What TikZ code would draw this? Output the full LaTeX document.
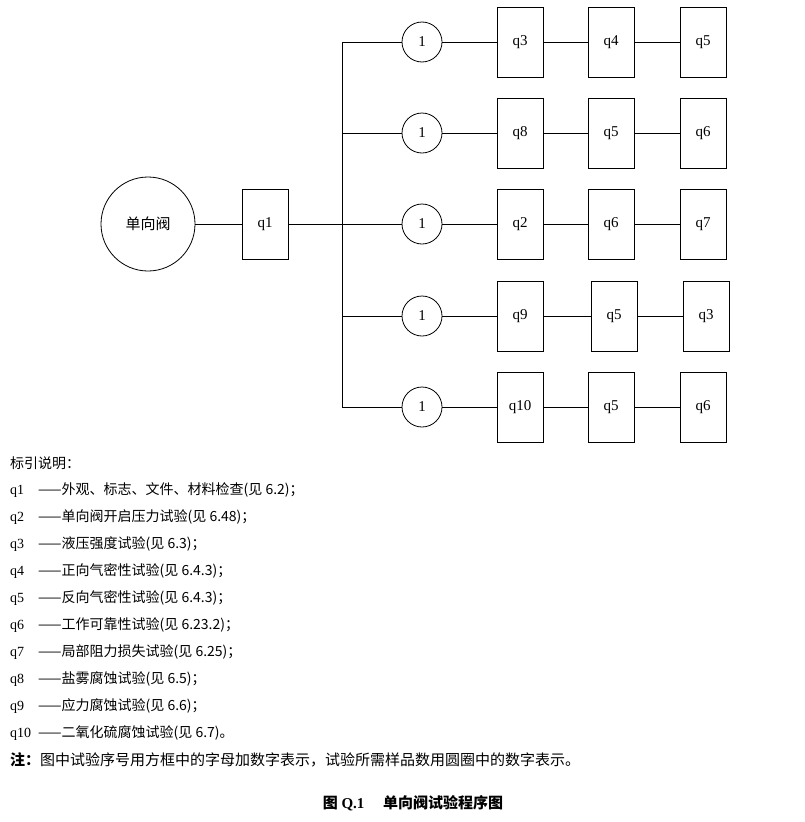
\documentclass[tikz,border=0pt]{standalone}
\usepackage{fontspec}
\setmainfont{Liberation Serif}
\newfontfamily\cjk{Noto Sans CJK SC}
\begin{document}
\begin{tikzpicture}[x=1pt,y=-1pt,font=\fontsize{15}{15}\selectfont]
    \useasboundingbox (0,0) rectangle (804,822);
    \tikzset{
        box/.style={draw,minimum width=46,minimum height=70,inner sep=0},
        cnt/.style={draw,circle,minimum size=40,inner sep=0},
        leg/.style={anchor=west,inner sep=0,font=\fontsize{14}{14}\selectfont}
    }

    \begin{scope}[thick]
        \node[draw,circle,minimum size=94] (v) at (148,224) {\cjk 单向阀};
        \node[box] (q1) at (265,224) {q1};
        \coordinate (t) at (342,224);
        \draw (v) -- (q1) -- (t);

        % rows: y, tests
        \foreach \y/\i/\a/\b/\c/\xa/\xb/\xc in {
            42/1/q3/q4/q5/520/611/703,
            133/2/q8/q5/q6/520/611/703,
            224/3/q2/q6/q7/520/611/703,
            316/4/q9/q5/q3/520/614/706,
            407/5/q10/q5/q6/520/611/703} {
            \coordinate (s\i) at (342,\y);
            \node[cnt] (n\i) at (422,\y) {1};
            \node[box] (a\i) at (\xa,\y) {\a};
            \node[box] (b\i) at (\xb,\y) {\b};
            \node[box] (c\i) at (\xc,\y) {\c};
            \draw (s\i) -- (n\i) -- (a\i) -- (b\i) -- (c\i);
        }
        \draw (s1) -- (s5);
    \end{scope}

    % legend
    \node[leg] (h) at (10,463) {\cjk 标引说明：};
    \foreach \k/\txt [count=\j] in {
        q1/——外观、标志、文件、材料检查(见 6.2)；,
        q2/——单向阀开启压力试验(见 6.48)；,
        q3/——液压强度试验(见 6.3)；,
        q4/——正向气密性试验(见 6.4.3)；,
        q5/——反向气密性试验(见 6.4.3)；,
        q6/——工作可靠性试验(见 6.23.2)；,
        q7/——局部阻力损失试验(见 6.25)；,
        q8/——盐雾腐蚀试验(见 6.5)；,
        q9/——应力腐蚀试验(见 6.6)；,
        q10/——二氧化硫腐蚀试验(见 6.7)。} {
        \node[leg] (l\j) at (10,463+27*\j) {\makebox[28pt][l]{\k}{\cjk \txt}};
    }
    \node[leg,font=\fontsize{15}{15}\selectfont] (note) at (10,760) {{\cjk\bfseries 注：}{\cjk 图中试验序号用方框中的字母加数字表示，试验所需样品数用圆圈中的数字表示。}};
    \node[inner sep=0,font=\fontsize{15}{15}\selectfont\bfseries] (cap) at (413,803) {{\cjk 图} Q.1\quad\ {\cjk 单向阀试验程序图}};
\end{tikzpicture}
\end{document}
